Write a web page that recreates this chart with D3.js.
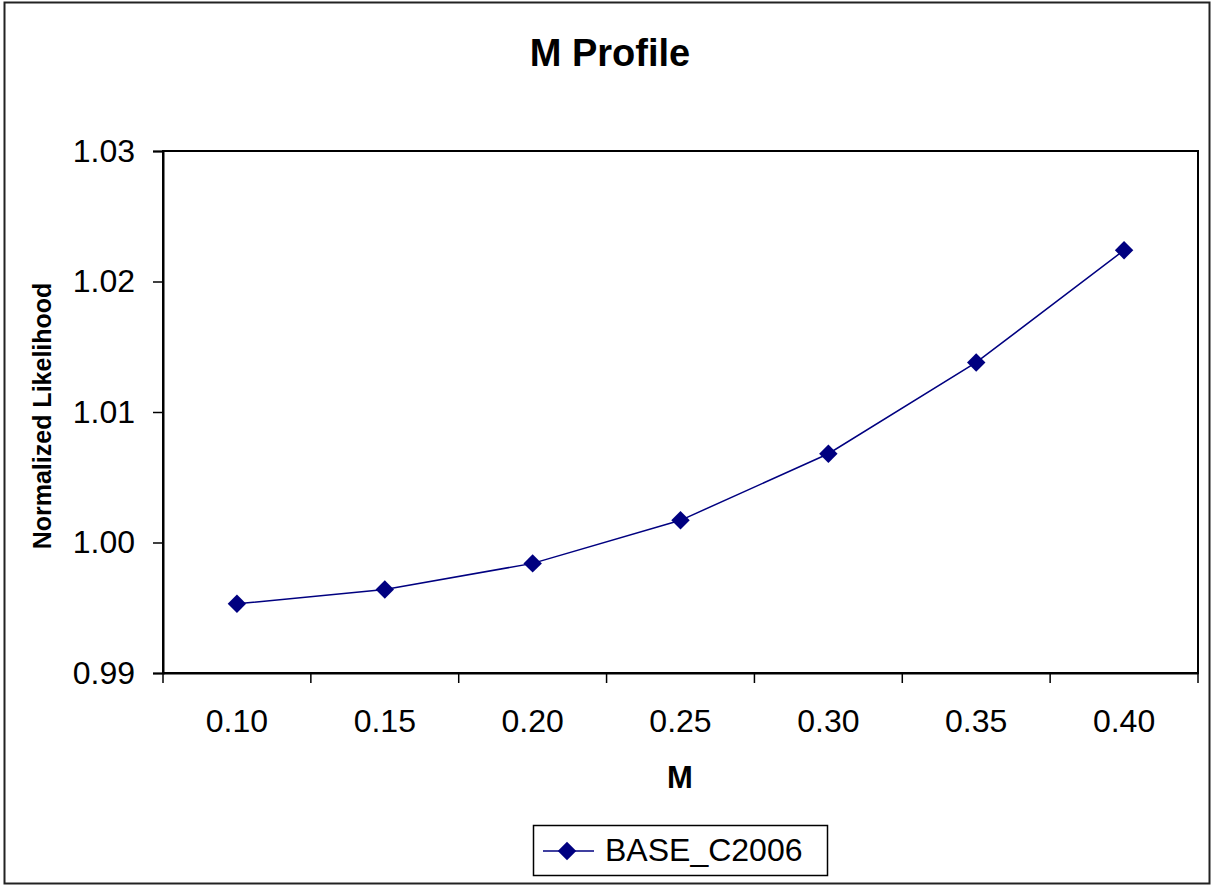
<!DOCTYPE html>
<html>
<head>
<meta charset="utf-8">
<script src="https://cdn.jsdelivr.net/npm/d3@7"></script>
<style>
  body { margin: 0; background: #fff; }
  svg { font-family: "Liberation Sans", Arial, sans-serif; }
</style>
</head>
<body>
<svg id="chart"></svg>
<script>
const width = 1212;
const height = 886;
const margin = { top: 151, right: 14, bottom: 213, left: 163 };

const categories = ['0.10', '0.15', '0.20', '0.25', '0.30', '0.35', '0.40'];
const likelihood = [0.9953, 0.9964, 0.9984, 1.0017, 1.0068, 1.0138, 1.0224];
const yTicks = [0.99, 1.00, 1.01, 1.02, 1.03];
const seriesName = 'BASE_C2006';
const navy = '#000080';

const svg = d3.select('#chart')
    .attr('width', width)
    .attr('height', height);

// outer frame
svg.append('rect')
    .attr('x', 4.5).attr('y', 2.5)
    .attr('width', width - 7).attr('height', height - 5)
    .attr('fill', '#fff').attr('stroke', '#222').attr('stroke-width', 2);

const xScale = d3.scaleBand()
    .domain(categories)
    .range([margin.left, width - margin.right]);
const yScale = d3.scaleLinear()
    .domain([0.99, 1.03])
    .range([height - margin.bottom, margin.top]);

svg.append('text')
    .attr('x', 610).attr('y', 66)
    .attr('text-anchor', 'middle')
    .style('font-size', '38px').style('font-weight', 'bold')
    .text('M Profile');

// plot area border
svg.append('rect')
    .attr('x', margin.left).attr('y', margin.top)
    .attr('width', width - margin.right - margin.left)
    .attr('height', height - margin.bottom - margin.top)
    .attr('fill', 'none').attr('stroke', '#000').attr('stroke-width', 2);

// y axis
const yAxis = svg.append('g')
    .attr('transform', `translate(${margin.left}, 0)`)
    .call(d3.axisLeft(yScale).tickValues(yTicks).tickSize(10).tickPadding(18)
        .tickFormat(d3.format('.2f')));
yAxis.select('.domain').attr('stroke-width', 2);
yAxis.selectAll('.tick line').attr('stroke-width', 1.5);
yAxis.selectAll('text').style('font-size', '32px').attr('fill', '#000');

// x axis: ticks between categories
const xAxis = svg.append('g')
    .attr('transform', `translate(0, ${height - margin.bottom})`)
    .call(d3.axisBottom(xScale).tickSize(0).tickPadding(36));
xAxis.select('.domain').attr('stroke-width', 2);
xAxis.selectAll('text').style('font-size', '32px').attr('fill', '#000');
const bounds = categories.map(c => xScale(c)).concat([xScale.range()[1]]);
xAxis.selectAll('.sep')
    .data(bounds)
    .enter()
    .append('line')
    .attr('x1', d => d).attr('x2', d => d)
    .attr('y1', 0).attr('y2', 10)
    .attr('stroke', '#000').attr('stroke-width', 1.5);

svg.append('text')
    .attr('x', 680).attr('y', 788)
    .attr('text-anchor', 'middle')
    .style('font-size', '31px').style('font-weight', 'bold')
    .text('M');

svg.append('text')
    .attr('transform', 'translate(51, 416) rotate(-90)')
    .attr('text-anchor', 'middle')
    .style('font-size', '25px').style('font-weight', 'bold')
    .text('Normalized Likelihood');

const cx = (d, i) => xScale(categories[i]) + xScale.bandwidth() / 2;
const diamond = d3.symbol().type(d3.symbolSquare).size(170);

svg.append('path')
    .datum(likelihood)
    .attr('fill', 'none')
    .attr('stroke', navy)
    .attr('stroke-width', 1.5)
    .attr('d', d3.line().x(cx).y(d => yScale(d)));

svg.selectAll('.dot')
    .data(likelihood)
    .enter()
    .append('path')
    .attr('class', 'dot')
    .attr('d', diamond)
    .attr('transform', (d, i) => `translate(${cx(d, i)}, ${yScale(d)}) rotate(45)`)
    .attr('fill', navy);

// legend
const legend = svg.append('g').attr('transform', 'translate(533, 825)');
legend.append('rect')
    .attr('x', 0.5).attr('y', 0.5)
    .attr('width', 294).attr('height', 50)
    .attr('fill', '#fff').attr('stroke', '#000').attr('stroke-width', 1.5);
legend.append('line')
    .attr('x1', 10).attr('x2', 61).attr('y1', 26).attr('y2', 26)
    .attr('stroke', navy).attr('stroke-width', 1.5);
legend.append('path')
    .attr('d', diamond)
    .attr('transform', 'translate(34, 26) rotate(45)')
    .attr('fill', navy);
legend.append('text')
    .attr('x', 72).attr('y', 36)
    .style('font-size', '32px')
    .text(seriesName);
</script>
</body>
</html>
